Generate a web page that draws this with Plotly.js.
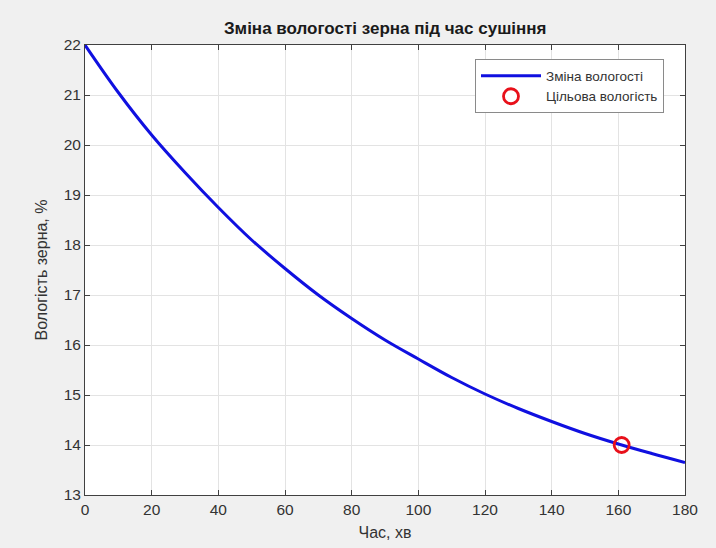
<!DOCTYPE html>
<html>
<head>
<meta charset="utf-8">
<script src="https://cdn.plot.ly/plotly-3.0.1.min.js"></script>
<style>
html,body{margin:0;padding:0;background:#f0f0f0;}
#chart{width:716px;height:548px;}
</style>
</head>
<body>
<div id="chart"></div>
<script>
const timeMin = [0,10,20,30,40,50,60,70,80,90,100,110,120,130,140,150,160,170,180];
const moisture = [22.0,21.05,20.2,19.45,18.75,18.1,17.53,17.0,16.53,16.1,15.72,15.35,15.02,14.73,14.47,14.23,14.02,13.83,13.65];
const targetTime = [161];
const targetMoisture = [14.0];
const xTicks = [0,20,40,60,80,100,120,140,160,180];
const yTicks = [13,14,15,16,17,18,19,20,21,22];

const font = "Liberation Sans, Arial, Helvetica, sans-serif";

const traces = [
  {
    x: timeMin, y: moisture, type: 'scatter', mode: 'lines',
    name: 'Зміна вологості',
    line: {color: '#1010e0', width: 3, shape: 'spline', smoothing: 1},
    hoverinfo: 'skip'
  },
  {
    x: targetTime, y: targetMoisture, type: 'scatter', mode: 'markers',
    name: 'Цільова вологість',
    marker: {symbol: 'circle-open', size: 15, color: '#e8101a', line: {width: 2.8, color: '#e8101a'}}
  }
];

const axisCommon = {
  showline: true, mirror: 'ticks', linecolor: '#404040', linewidth: 1,
  ticks: 'inside', ticklen: 5, tickcolor: '#404040',
  showgrid: true, gridcolor: '#e3e3e3', gridwidth: 1,
  zeroline: false,
  tickfont: {family: font, size: 15.5, color: '#333333'}
};

const layout = {
  width: 716, height: 548,
  paper_bgcolor: '#f0f0f0', plot_bgcolor: '#ffffff',
  margin: {l: 85, r: 31, t: 45, b: 53},
  title: {text: '<b>Зміна вологості зерна під час сушіння</b>', x: 0.538, xanchor: 'center', y: 0.948, yanchor: 'middle',
          font: {family: font, size: 17, color: '#1a1a1a'}},
  xaxis: Object.assign({}, axisCommon, {
    range: [0, 180], tickvals: xTicks, ticktext: xTicks.map(String),
    title: {text: 'Час, хв', font: {family: font, size: 16, color: '#333333'}, standoff: 10}
  }),
  yaxis: Object.assign({}, axisCommon, {
    range: [13, 22], tickvals: yTicks, ticktext: yTicks.map(String),
    title: {text: 'Вологість зерна, %', font: {family: font, size: 16, color: '#333333'}, standoff: 12}
  }),
  legend: {
    x: 0.965, xanchor: 'right', y: 0.968, yanchor: 'top',
    bgcolor: '#ffffff', bordercolor: '#8a8a8a', borderwidth: 1,
    font: {family: font, size: 13.5, color: '#333333'},
    tracegroupgap: 0, itemwidth: 60
  },
  showlegend: true
};

Plotly.newPlot('chart', traces, layout, {displayModeBar: false, staticPlot: true});
</script>
</body>
</html>
